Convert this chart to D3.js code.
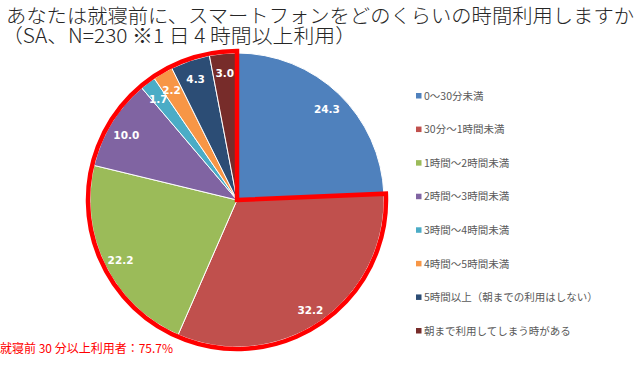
<!DOCTYPE html>
<html><head><meta charset="utf-8">
<script src="https://cdn.jsdelivr.net/npm/d3@7"></script>
<style>
html,body{margin:0;padding:0;background:#fff;}
svg{display:block;}
</style></head>
<body>
<svg id="c" width="640" height="369"></svg>
<script>
const categories = ["0～30分未満","30分～1時間未満","1時間～2時間未満","2時間～3時間未満","3時間～4時間未満","4時間～5時間未満","5時間以上（朝までの利用はしない）","朝まで利用してしまう時がある"];
const values = [24.3, 32.2, 22.2, 10.0, 1.7, 2.2, 4.3, 3.0];
const colors = ["#4F81BD","#C0504D","#9BBB59","#8064A2","#4BACC6","#F79646","#2C4D75","#772C2A"];
const titleLines = ["あなたは就寝前に、スマートフォンをどのくらいの時間利用しますか","（SA、N=230 ※1 日 4 時間以上利用）"];
const noteText = "就寝前 30 分以上利用者：75.7%";

const svg = d3.select("#c");
const cx = 237, cy = 200, r = 147;
const jp = "'Noto Sans CJK JP','Noto Sans',sans-serif";

// title
svg.append("text").attr("x",6).attr("y",23).attr("font-family",jp).attr("font-size",19.5).attr("font-weight",300)
  .attr("fill","#262626").attr("textLength",628).attr("lengthAdjust","spacingAndGlyphs").text(titleLines[0]);
svg.append("text").attr("x",2).attr("y",43).attr("font-family",jp).attr("font-size",19.5).attr("font-weight",300)
  .attr("fill","#262626").attr("textLength",354).attr("lengthAdjust","spacingAndGlyphs").text(titleLines[1]);

const data = categories.map((c,i)=>({c, v:values[i], col:colors[i]}));
const pie = d3.pie().sort(null).value(d=>d.v);
const arcs = pie(data);
const arc = d3.arc().innerRadius(0).outerRadius(r);
const g = svg.append("g").attr("transform",`translate(${cx},${cy})`);
g.selectAll("path.s").data(arcs).join("path").attr("class","s")
  .attr("d",arc).attr("fill",d=>d.data.col).attr("stroke","#fff").attr("stroke-width",1);

// red highlight outline (all but first category)
const ro = r + 2;
const a0 = arcs[0].endAngle, a1 = arcs[arcs.length-1].endAngle;
const hl = d3.path();
hl.moveTo(0,0);
hl.lineTo(ro*Math.sin(a0), -ro*Math.cos(a0));
hl.arc(0,0,ro,a0-Math.PI/2,a1-Math.PI/2,false);
hl.closePath();
g.append("path").attr("d",hl.toString()).attr("fill","none").attr("stroke","#FF0000")
  .attr("stroke-width",4.5).attr("stroke-linejoin","miter");

// labels
const lr = 130;
g.selectAll("text.l").data(arcs).join("text").attr("class","l")
  .attr("x",d=>{const a=(d.startAngle+d.endAngle)/2; return lr*Math.sin(a);})
  .attr("y",d=>{const a=(d.startAngle+d.endAngle)/2; return -lr*Math.cos(a)+3;})
  .attr("dy","0.35em").attr("text-anchor","middle")
  .attr("font-family","'DejaVu Sans',sans-serif").attr("font-weight","bold").attr("font-size",10.5)
  .attr("fill","#fff").text(d=>d.data.v.toFixed(1));

// legend
const ly = d3.scalePoint().domain(categories).range([96,331]);
const lg = svg.append("g");
lg.selectAll("rect").data(data).join("rect")
  .attr("x",416).attr("y",d=>ly(d.c)-3).attr("width",5.5).attr("height",5.5).attr("fill",d=>d.col);
lg.selectAll("text").data(data).join("text")
  .attr("x",424).attr("y",d=>ly(d.c)).attr("dy","0.36em")
  .attr("font-family",jp).attr("font-size",10.5).attr("fill","#595959").text(d=>d.c);

// note
svg.append("text").attr("x",0).attr("y",353).attr("font-family",jp).attr("font-size",12)
  .attr("fill","#FF0000").text(noteText);
</script>
</body></html>
